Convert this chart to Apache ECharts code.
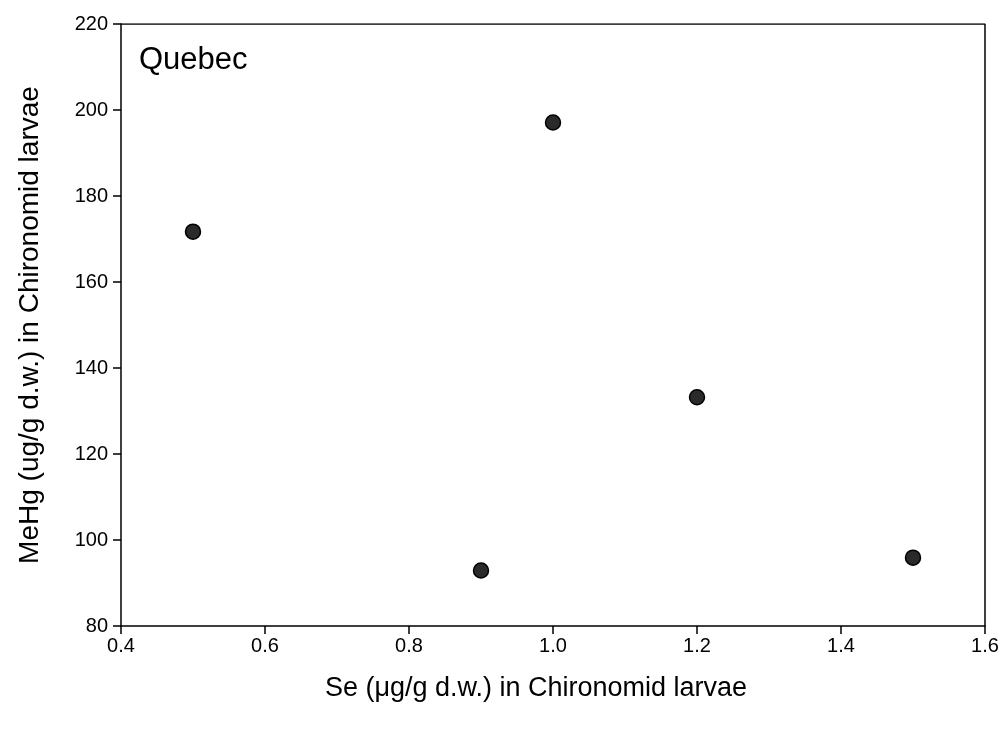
<!DOCTYPE html>
<html>
<head>
<meta charset="utf-8">
<script src="https://cdn.jsdelivr.net/npm/echarts@6/dist/echarts.min.js"></script>
<style>
  html, body { margin: 0; padding: 0; background: #fff; }
  #chart { width: 1006px; height: 731px; }
</style>
</head>
<body>
<div id="chart"></div>
<script>
// Se vs MeHg, Quebec
var seValues = [0.5, 0.9, 1.0, 1.2, 1.5];
var mehgValues = [171.7, 92.9, 197.1, 133.2, 95.9];
var siteLabel = 'Quebec';
var xName = 'Se (\u03bcg/g d.w.) in Chironomid larvae';
var yName = 'MeHg (ug/g d.w.) in Chironomid larvae';

var chart = echarts.init(document.getElementById('chart'));

var points = [];
for (var i = 0; i < seValues.length; i++) {
    points.push([seValues[i], mehgValues[i]]);
}

var axisFont = 'Liberation Sans, Arial, sans-serif';

option = {
    backgroundColor: '#fff',
    animation: false,
    title: {
        text: siteLabel,
        left: 134,
        top: 40,
        textStyle: {
            fontFamily: axisFont,
            fontWeight: 'normal',
            fontSize: 31,
            color: '#000'
        }
    },
    grid: {
        left: 121,
        right: 21,
        top: 24,
        bottom: 105
    },
    xAxis: {
        type: 'value',
        min: 0.4,
        max: 1.6,
        interval: 0.2,
        name: xName,
        nameLocation: 'middle',
        nameGap: 49,
        nameTextStyle: { fontFamily: axisFont, fontSize: 27, color: '#000', padding: [0, 34, 0, 0] },
        axisLine: { show: true, onZero: false, lineStyle: { color: '#000', width: 1.5 } },
        axisTick: { show: true, inside: false, length: 8, lineStyle: { color: '#000', width: 1.5 } },
        axisLabel: {
            fontFamily: axisFont, fontSize: 20, color: '#000', margin: 10,
            formatter: function (v) { return v.toFixed(1); }
        },
        splitLine: { show: false }
    },
    yAxis: {
        type: 'value',
        min: 80,
        max: 220,
        interval: 20,
        name: yName,
        nameLocation: 'middle',
        nameGap: 77,
        nameTextStyle: { fontFamily: axisFont, fontSize: 28, color: '#000' },
        axisLine: { show: true, onZero: false, lineStyle: { color: '#000', width: 1.5 } },
        axisTick: { show: true, inside: false, length: 8, lineStyle: { color: '#000', width: 1.5 } },
        axisLabel: { fontFamily: axisFont, fontSize: 20, color: '#000', margin: 13 },
        splitLine: { show: false }
    },
    series: [
        {
            type: 'scatter',
            data: points,
            symbol: 'circle',
            symbolSize: 15,
            itemStyle: {
                color: '#2a2a2a',
                borderColor: '#000',
                borderWidth: 1.5,
                opacity: 1
            }
        },
        {
            // right and top frame lines
            type: 'line',
            data: [[1.6, 80], [1.6, 220], [0.4, 220]],
            symbol: 'none',
            silent: true,
            lineStyle: { color: '#000', width: 1.5 }
        }
    ]
};

chart.setOption(option);
</script>
</body>
</html>
